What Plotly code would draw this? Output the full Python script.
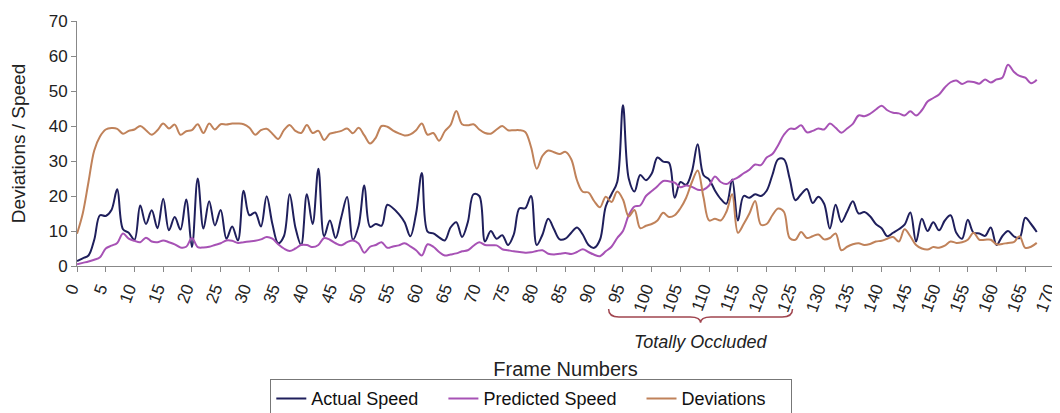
import plotly.graph_objects as go

frames = list(range(168))

actual_speed = [
    1.4, 2.2, 3, 7.5, 14.5, 14.3, 16, 21.9, 10.5, 9.5, 7.5, 17.3, 12, 15.9, 10.8, 19.2, 10.2, 14, 10.4, 19, 5.4, 25, 10.7, 18.5, 11.6, 16, 7.8, 11.3,
    7.3, 21.5, 14.5, 15.3, 11.3, 19.9, 12, 6.5, 8.5, 20.5, 11, 6, 20.5, 12, 27.8, 8.5, 13, 8, 14, 19.7, 7.5, 11.5, 23, 11.2, 12, 11.5, 17.5,
    16.5, 14.8, 12.5, 8.5, 15, 26.6, 9.8, 9.3, 8.2, 7.3, 11, 12.5, 8.3, 12.5, 20.5, 20, 7, 10, 7.8, 8.8, 6, 9, 16.5, 16.5, 20, 6, 9, 13.5,
    10.5, 7.6, 7.8, 9.5, 11, 9, 6, 5.2, 7.5, 17, 20.5, 24, 45.9, 25, 21.3, 26, 24.5, 26.4, 31, 29.8, 29.5, 19.5, 24, 23.2, 27, 34.8, 26, 24.7,
    21.6, 19.2, 17.8, 24.7, 13, 20, 19.5, 20.5, 20, 21.5, 26, 30.5, 30.5, 25, 18.8, 20.5, 22, 18, 19.8, 17.8, 10.7, 17.5, 12.6, 15.5, 18.5, 15, 15.4,
    14.2, 12, 10.8, 8.5, 9.5, 10.5, 11.8, 15.3, 7, 13.5, 10, 12.5, 10.2, 13, 14.5, 9.5, 7.8, 13.2, 9.5, 9.3, 8.6, 11, 6, 8.5, 10, 8.5, 8, 13.8, 12, 9.7,
]

predicted_speed = [
    0.5, 0.9, 1.3, 1.8, 2.5, 5, 5.8, 6.6, 9.3, 7.8, 7.2, 6.8, 8.1, 7, 6.8, 7.3, 6.8, 6.2, 5.3, 5.5, 8, 5.4, 5.3, 5.5, 6, 6.5, 7.3, 7.2,
    6.6, 6.8, 7, 7.2, 7.6, 8.3, 7.8, 6.2, 5, 4.3, 5, 6, 6, 5.4, 6, 8, 7.5, 6.5, 5.9, 6.8, 7.3, 6.4, 3.8, 5.5, 6, 6.8, 5.2,
    5.6, 5.9, 6.5, 5.6, 4.5, 3, 6.2, 5.5, 4, 3, 3.3, 3.6, 4.2, 4.5, 5.8, 6.8, 6, 5.9, 5.9, 4.8, 4.5, 4.2, 4, 3.8, 3.9, 4.3, 4.5, 3.5,
    3.3, 3.5, 3.7, 3.4, 4, 4.8, 4, 3.2, 2.8, 4.2, 5.5, 8, 10, 14.5, 17, 17.3, 20, 21.4, 22.8, 24.3, 24.2, 23.8, 22.5, 23, 22.6, 21.8, 21.8, 23,
    25.6, 24, 23.4, 24.5, 25.3, 26.5, 27.5, 29, 28.8, 31, 32, 34.5, 37.5, 39.2, 39.2, 40.2, 38.2, 38.6, 39.3, 39, 40.7, 39.5, 38.1, 39.3, 40.6, 43, 42.8,
    43.5, 44.7, 45.8, 44.5, 43.8, 43.6, 43, 44.2, 43, 44.5, 47, 48, 49, 51, 52.5, 53, 52, 52.7, 52.6, 52.1, 53.3, 52.4, 53.3, 53.8, 57.5, 55.5, 54.3, 53.8, 52.2, 53.2,
]

deviations = [
    9.2, 15, 24, 33, 37, 39, 39.4, 39.2, 37.8, 38.6, 39, 40, 38.8, 37.5, 38.8, 40.7, 39.3, 40.4, 37.5, 38.5, 38.8, 40.5, 38, 40.7, 39, 40.5, 40.4, 40.7,
    40.7, 40.5, 39.5, 37.5, 38.8, 39.2, 37.8, 36.3, 38.8, 40.3, 38.6, 38, 40.3, 38, 38.6, 36, 37.8, 38.2, 38.6, 39.3, 37.9, 39.5, 37.3, 35, 36.7, 40, 39.8,
    38.7, 37.9, 37.3, 37.6, 38.8, 40.7, 37.5, 38, 35.8, 38.5, 40.3, 44.3, 40.5, 40.2, 40.5, 39, 38, 37.8, 39, 40, 38.8, 38.8, 38.8, 38.3, 34, 27.8, 31.5, 33,
    32.5, 32, 32.6, 30.5, 24.5, 21.2, 21, 18.5, 16.8, 19.8, 18.3, 21.3, 19, 14.2, 16, 10.8, 11.5, 12, 13, 15.2, 14, 14.5, 16.5, 19.5, 24, 27.3, 19.7, 13,
    13.5, 13, 15.5, 20.5, 9.5, 12, 15, 18.6, 11.8, 12, 14.5, 16.4, 15.5, 8, 7.5, 9.7, 8, 8.5, 9, 7.6, 8, 9.3, 4.5, 5.5, 6.2, 6.5, 6,
    6.3, 7, 7.2, 7.8, 8.3, 7, 10.5, 8.5, 6, 5, 4.7, 5.4, 5.2, 5.8, 7, 6.6, 6.8, 7.5, 9.5, 7.5, 7.5, 7.5, 6.2, 6.3, 6.6, 6.8, 8.5, 5.2, 5.5, 6.6,
]

series_names = ["Actual Speed", "Predicted Speed", "Deviations"]
occluded_range = [92.5, 124.5]
occluded_label = "Totally Occluded"

FONT = "Arial, 'Liberation Sans', sans-serif"
PAD = "\u00a0" * 4

fig = go.Figure()
colors = ["#1f1f5c", "#a752b5", "#c0825a"]
for name, vals, col in zip(series_names, [actual_speed, predicted_speed, deviations], colors):
    fig.add_trace(go.Scatter(
        x=frames, y=vals, name=name + PAD, mode="lines",
        line=dict(color=col, width=2, shape="spline", smoothing=1.0),
    ))

# brace under occluded frames (x in data units, y in paper units)
x0, x1 = occluded_range
xm = (x0 + x1) / 2
ya, yb, yt = -0.175, -0.208, -0.232
d = 1.8
path = (f"M {x0},{ya} Q {x0},{yb} {x0+d},{yb} L {xm-d},{yb} Q {xm},{yb} {xm},{yt} "
        f"Q {xm},{yb} {xm+d},{yb} L {x1-d},{yb} Q {x1},{yb} {x1},{ya}")
fig.add_shape(type="path", path=path, xref="x", yref="paper",
              line=dict(color="#a0454f", width=1.5))
fig.add_annotation(x=xm, y=-0.262, xref="x", yref="paper", text=f"<i>{occluded_label}</i>",
                   showarrow=False, yanchor="top", font=dict(size=18, color="#222", family=FONT))

# the page adds an 8px body margin, so the figure is sized 8px smaller
fig.update_layout(
    width=1052, height=405,
    margin=dict(l=69, r=6, t=13, b=147, autoexpand=False),
    paper_bgcolor="white", plot_bgcolor="white",
    font=dict(family=FONT, size=17, color="#222"),
    showlegend=True,
    legend=dict(orientation="h", x=0.465, xanchor="center", y=-0.462, yanchor="top",
                bordercolor="#777", borderwidth=1, font=dict(size=18, color="#111"),
                itemwidth=30, tracegroupgap=0),
    xaxis=dict(range=[0, 170], dtick=5, tick0=0, tickangle=-70, showgrid=False, zeroline=False,
               showline=True, linecolor="#888", linewidth=1, ticks="outside", ticklen=5,
               tickcolor="#888", tickfont=dict(size=17, color="#222"), automargin=False,
               ticklabeloverflow="allow", ticklabelshift=-6,
               title=dict(text="Frame Numbers", font=dict(size=20), standoff=48)),
    yaxis=dict(range=[0, 70], dtick=10, showgrid=False, zeroline=False,
               showline=True, linecolor="#888", linewidth=1, ticks="outside", ticklen=5,
               tickcolor="#888", tickfont=dict(size=17, color="#222"), automargin=False,
               title=dict(text="Deviations / Speed", font=dict(size=19), standoff=22)),
)

fig.write_html("out.html")
